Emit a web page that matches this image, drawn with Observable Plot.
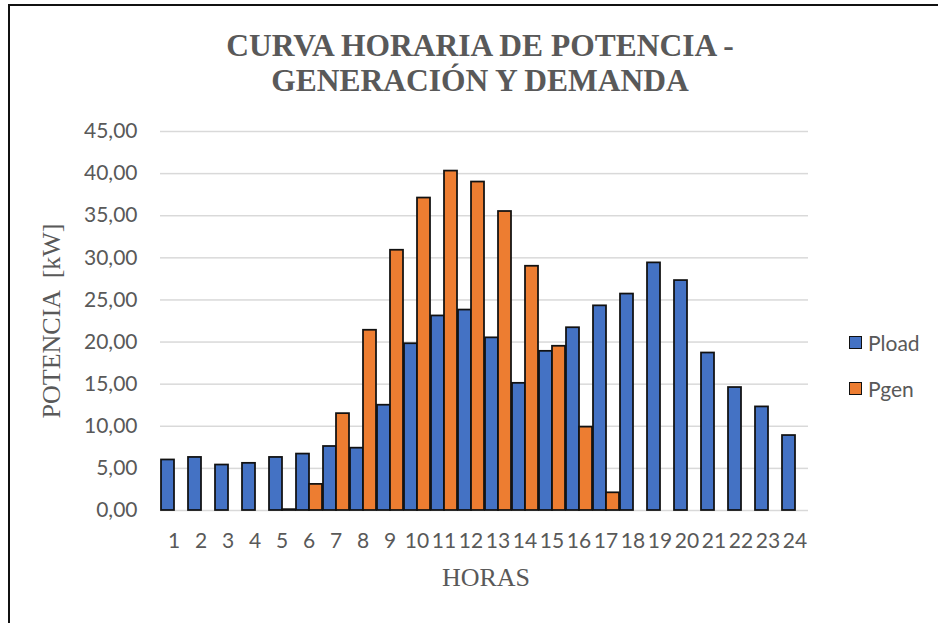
<!DOCTYPE html>
<html>
<head>
<meta charset="utf-8">
<script src="https://cdn.jsdelivr.net/npm/d3@7"></script>
<script src="https://cdn.jsdelivr.net/npm/@observablehq/plot@0.6"></script>
<style>
  html, body { margin: 0; padding: 0; background: #fff; }
  #wrap { position: relative; width: 938px; height: 623px; overflow: hidden; background: #fff; }
  #frame { position: absolute; left: 8px; top: 4px; right: -10px; bottom: -10px; border-left: 2px solid #111; border-top: 2px solid #111; }
  #title { position: absolute; left: 180px; width: 600px; top: 28px; text-align: center;
           font-family: "Liberation Serif", "Times New Roman", serif; font-weight: bold; font-size: 31.5px;
           line-height: 35px; color: #595959; }
  .axt { position: absolute; font-family: "Liberation Serif", "Times New Roman", serif; font-size: 26px; color: #595959; white-space: pre; }
  #ytitle { left: 52px; top: 321px; transform: translate(-50%, -50%) rotate(-90deg); }
  #xtitle { left: 486px; top: 578px; transform: translate(-50%, -50%); }
  #legend { position: absolute; left: 849px; top: 330px; font-family: Lato, sans-serif; font-size: 21px; color: #595959; }
  .li { display: flex; align-items: center; height: 24px; margin-bottom: 22px; }
  .sw { width: 11px; height: 11px; border: 1.5px solid #111; margin-right: 6px; }
  #chart { position: absolute; left: 0; top: 0; }
</style>
</head>
<body>
<div id="wrap">
  <div id="frame"></div>
  <div id="chart"></div>
  <div id="title">CURVA HORARIA DE POTENCIA -<br>GENERACIÓN Y DEMANDA</div>
  <div id="ytitle" class="axt">POTENCIA  [kW]</div>
  <div id="xtitle" class="axt">HORAS</div>
  <div id="legend"></div>
</div>
<script>
const hours = [1,2,3,4,5,6,7,8,9,10,11,12,13,14,15,16,17,18,19,20,21,22,23,24];
const series = ["Pload", "Pgen"];
const colors = ["#4472C4", "#ED7D31"];
const pload = [6.0, 6.3, 5.4, 5.6, 6.3, 6.7, 7.6, 7.4, 12.5, 19.8, 23.1, 23.8, 20.5, 15.1, 18.9, 21.7, 24.3, 25.7, 29.4, 27.3, 18.7, 14.6, 12.3, 8.9];
const pgen  = [null, null, null, null, 0.1, 3.1, 11.5, 21.4, 30.9, 37.1, 40.3, 39.0, 35.5, 29.0, 19.5, 9.9, 2.1, null, null, null, null, null, null, null];
const yTicks = [0, 5, 10, 15, 20, 25, 30, 35, 40, 45];

const data = hours.flatMap((h, i) => [
  {hour: h, series: "Pload", value: pload[i]},
  {hour: h, series: "Pgen", value: pgen[i]}
]).filter(d => d.value != null);

const fmt = d => d3.format(".2f")(d).replace(".", ",");

const chart = Plot.plot({
  width: 938,
  height: 623,
  marginLeft: 159,
  marginRight: 130,
  marginTop: 131,
  marginBottom: 113,
  style: {fontFamily: "Lato, sans-serif", fontSize: "21px", color: "#595959", background: "transparent", overflow: "visible"},
  fx: {domain: hours, padding: 0},
  x: {domain: series, padding: 0, axis: null},
  y: {domain: [0, 45]},
  color: {domain: series, range: colors},
  marks: [
    Plot.gridY(yTicks, {stroke: "#D9D9D9", strokeOpacity: 1, strokeWidth: 1.5}),
    Plot.axisY({ticks: yTicks, tickFormat: fmt, tickSize: 0, tickPadding: 23, label: null, fontSize: 21, fill: "#595959"}),
    Plot.axisFx({anchor: "bottom", tickSize: 0, tickPadding: 23, label: null, fontSize: 21, fill: "#595959"}),
    Plot.barY(data, {fx: "hour", x: "series", y: "value", fill: "series", stroke: "#111", strokeWidth: 1.75})
  ]
});
document.getElementById("chart").appendChild(chart);

const legend = document.getElementById("legend");
series.forEach((s, i) => {
  const row = document.createElement("div");
  row.className = "li";
  const sw = document.createElement("div");
  sw.className = "sw";
  sw.style.background = colors[i];
  const t = document.createElement("span");
  t.textContent = s;
  row.appendChild(sw);
  row.appendChild(t);
  legend.appendChild(row);
});
</script>
</body>
</html>
